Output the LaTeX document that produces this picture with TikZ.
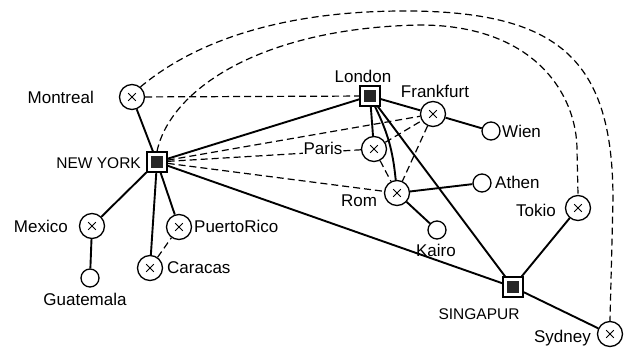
\documentclass[tikz,border=0pt]{standalone}
\usepackage{fontspec}
\setmainfont{Liberation Sans}
\begin{document}
\begin{tikzpicture}[x=1pt,y=1pt,
  hub/.style={draw, line width=1.3pt, fill=white, minimum size=20pt, inner sep=0pt,
    path picture={\fill[black!85] (path picture bounding box.center) +(-6,-6) rectangle +(6,6);}},
  city/.style={circle, draw, line width=1.3pt, fill=white, minimum size=25pt, inner sep=0pt,
    path picture={\draw[line width=1pt] (path picture bounding box.center) +(-3.8,-3.8) -- +(3.8,3.8) +(-3.8,3.8) -- +(3.8,-3.8);}},
  town/.style={circle, draw, line width=1.3pt, fill=white, minimum size=18pt, inner sep=0pt},
  lbl/.style={font=\fontsize{17}{17}\selectfont, inner sep=1pt},
  caplbl/.style={font=\fontsize{15.5}{15.5}\selectfont, inner sep=1pt},
  link/.style={line width=1.9pt},
  dlink/.style={line width=1.2pt, dash pattern=on 7pt off 4pt}
]
\useasboundingbox (0,0) rectangle (633,-348);
% nodes
\node[city] (mon) at (132,-97) {};
\node[hub]  (ny)  at (157,-162) {};
\node[hub]  (lon) at (370,-96) {};
\node[city] (fra) at (433,-114) {};
\node[town] (wie) at (491,-131) {};
\node[city] (par) at (374,-149) {};
\node[city] (rom) at (397,-193) {};
\node[town] (ath) at (482,-183) {};
\node[town] (kai) at (437,-230) {};
\node[city] (tok) at (578,-208) {};
\node[hub]  (sin) at (513,-287) {};
\node[city] (syd) at (610,-334) {};
\node[city] (mex) at (92,-226) {};
\node[town] (gua) at (90,-278) {};
\node[city] (pri) at (179,-227) {};
\node[city] (car) at (150,-268) {};
% solid links
\draw[link] (mon) -- (ny);
\draw[link] (ny) -- (lon);
\draw[link] (ny) -- (sin);
\draw[link] (ny) -- (mex);
\draw[link] (ny) -- (car);
\draw[link] (ny) -- (pri);
\draw[link] (mex) -- (gua);
\draw[link] (lon) -- (fra);
\draw[link] (fra) -- (wie);
\draw[link] (lon) -- (par);
\draw[link] (lon) to[bend left=10] (rom);
\draw[link] (lon) -- (sin);
\draw[link] (rom) -- (ath);
\draw[link] (rom) -- (kai);
\draw[link] (sin) -- (tok);
\draw[link] (sin) -- (syd);
% dashed links
\draw[dlink] (mon) -- (lon);
\draw[dlink] (ny) -- (fra);
\draw[dlink] (ny) -- (par);
\draw[dlink] (ny) -- (rom);
\draw[dlink] (par) -- (fra);
\draw[dlink] (par) -- (rom);
\draw[dlink] (fra) -- (rom);
\draw[dlink] (car) -- (pri);
\draw[dlink] (mon.50) .. controls (182,-52) and (260,-12) .. (400,-11)
  .. controls (560,-10) and (613,-60) .. (613,-200) -- (syd.north);
\draw[dlink] (ny.north) .. controls (170,-90) and (260,-28) .. (420,-25)
  .. controls (535,-25) and (577,-95) .. (577,-150) -- (tok.north);
% labels
\node[lbl, anchor=east] (lmon) at (95,-97) {Montreal};
\node[caplbl, anchor=east] (lny) at (142,-163) {NEW YORK};
\node[lbl] (llon) at (363,-76) {London};
\node[lbl] (lfra) at (435,-91) {Frankfurt};
\node[lbl, anchor=west] (lwie) at (501,-131) {Wien};
\node[lbl, fill=white] (lpar) at (323,-148) {Paris};
\node[lbl] (lrom) at (359,-201) {Rom};
\node[lbl, anchor=west] (lath) at (494,-182) {Athen};
\node[lbl] (lkai) at (436,-250) {Kairo};
\node[lbl, anchor=east] (ltok) at (557,-210) {Tokio};
\node[caplbl] (lsin) at (479,-314) {SINGAPUR};
\node[lbl, anchor=east] (lsyd) at (592,-338) {Sydney};
\node[lbl, anchor=east] (lmex) at (69,-226) {Mexico};
\node[lbl, anchor=west] (lpri) at (193,-226) {PuertoRico};
\node[lbl, anchor=west] (lcar) at (166,-268) {Caracas};
\node[lbl] (lgua) at (85,-299) {Guatemala};
\end{tikzpicture}
\end{document}
